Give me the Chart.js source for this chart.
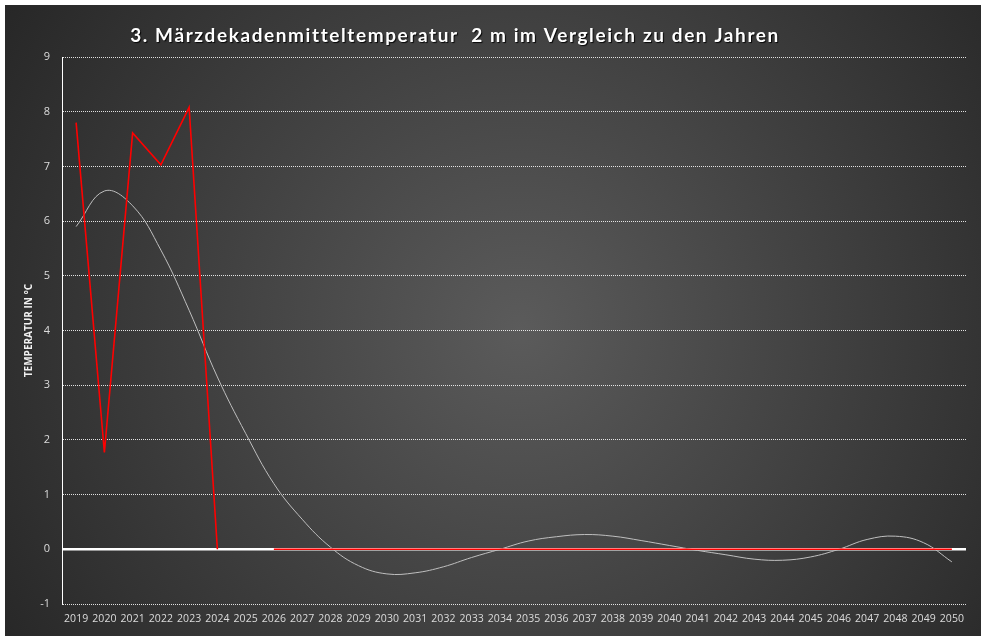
<!DOCTYPE html>
<html lang="de">
<head>
    <meta charset="UTF-8">
    <title>3. Märzdekadenmitteltemperatur</title>
    <script src="https://cdn.jsdelivr.net/npm/chart.js"></script>
    <style>
        html, body { margin: 0; padding: 0; background: #ffffff; }
        #wrap { width: 987px; height: 641px; }
    </style>
</head>
<body>
    <div id="wrap"><canvas id="chart" width="987" height="641"></canvas></div>
    <script>
        // Daten
        const TITLE = '3. Märzdekadenmitteltemperatur  2 m im Vergleich zu den Jahren';
        const years = ['2019', '2020', '2021', '2022', '2023', '2024', '2025', '2026', '2027', '2028',
            '2029', '2030', '2031', '2032', '2033', '2034', '2035', '2036', '2037', '2038',
            '2039', '2040', '2041', '2042', '2043', '2044', '2045', '2046', '2047', '2048',
            '2049', '2050'];
        // gemessene Werte (2025 fehlt, danach 0)
        const temps = [7.8, 1.77, 7.61, 7.03, 8.08, 0, null, 0, 0, 0,
            0, 0, 0, 0, 0, 0, 0, 0, 0, 0,
            0, 0, 0, 0, 0, 0, 0, 0, 0, 0,
            0, 0];
        // Trendlinie (Polynom)
        const trend = [5.9, 6.55, 6.28, 5.47, 4.37, 3.15, 2.12, 1.2, 0.55, 0.04,
            -0.3, -0.45, -0.43, -0.32, -0.15, 0.0, 0.15, 0.23, 0.27, 0.24,
            0.16, 0.07, -0.02, -0.1, -0.18, -0.2, -0.14, 0.0, 0.18, 0.24,
            0.12, -0.23];
        const yTicks = [-1, 0, 1, 2, 3, 4, 5, 6, 7, 8, 9];

        // Hintergrund mit Verlauf
        const bgPlugin = {
            id: 'bg',
            beforeDraw(chart) {
                const ctx = chart.ctx;
                ctx.save();
                ctx.fillStyle = '#ffffff';
                ctx.fillRect(0, 0, chart.width, chart.height);
                const g = ctx.createRadialGradient(520, 330, 0, 520, 330, 620);
                g.addColorStop(0, '#5b5b5b');
                g.addColorStop(1, '#262626');
                ctx.fillStyle = g;
                ctx.fillRect(5, 5, 976, 631);
                ctx.restore();
            }
        };

        // Titel mit Buchstabenabstand und Schatten
        const titlePlugin = {
            id: 'bigTitle',
            afterDraw(chart) {
                const ctx = chart.ctx;
                ctx.save();
                ctx.font = 'bold 19px Lato';
                ctx.letterSpacing = '1.6px';
                ctx.textAlign = 'center';
                ctx.textBaseline = 'middle';
                ctx.shadowColor = 'rgba(0,0,0,0.9)';
                ctx.shadowOffsetX = 1;
                ctx.shadowOffsetY = 1;
                ctx.shadowBlur = 1;
                ctx.fillStyle = '#ffffff';
                ctx.fillText(TITLE, 455, 36);
                ctx.restore();
            }
        };

        const ctx = document.getElementById('chart').getContext('2d');
        const chart = new Chart(ctx, {
            type: 'line',
            data: {
                labels: years,
                datasets: [
                    {
                        label: 'Temperatur',
                        data: temps,
                        borderColor: '#ff0000',
                        borderWidth: 1.6,
                        pointRadius: 0,
                        tension: 0,
                        spanGaps: false,
                        fill: false
                    },
                    {
                        label: 'Trend',
                        data: trend,
                        borderColor: '#bfbfbf',
                        borderWidth: 1,
                        pointRadius: 0,
                        tension: 0.4,
                        fill: false
                    }
                ]
            },
            options: {
                responsive: false,
                animation: false,
                layout: { padding: { left: 0, right: 21, top: 57, bottom: 0 } },
                plugins: {
                    legend: { display: false },
                    title: { display: false },
                    tooltip: { enabled: false }
                },
                scales: {
                    x: {
                        offset: true,
                        grid: { display: false, drawTicks: false },
                        border: { display: false },
                        ticks: {
                            color: '#dcdcdc',
                            font: { family: 'Open Sans', size: 10.5 },
                            padding: 9,
                            maxRotation: 0,
                            autoSkip: false
                        },
                        afterFit(scale) { scale.height = 37; }
                    },
                    y: {
                        min: -1,
                        max: 9,
                        afterBuildTicks(scale) {
                            scale.ticks = yTicks.map(v => ({ value: v }));
                        },
                        grid: {
                            drawTicks: false,
                            color: c => c.tick && c.tick.value === 0 ? '#ffffff' : 'rgba(255,255,255,0.85)',
                            lineWidth: c => c.tick && c.tick.value === 0 ? 2.5 : 1
                        },
                        border: {
                            display: true,
                            color: '#ffffff',
                            width: 1,
                            dash: c => c.tick && c.tick.value === 0 ? [] : [1, 1]
                        },
                        ticks: {
                            color: '#dcdcdc',
                            font: { family: 'Open Sans', size: 11 },
                            padding: 12
                        },
                        title: {
                            display: true,
                            text: 'TEMPERATUR IN °C',
                            color: '#f0f0f0',
                            font: { family: 'Open Sans', size: 10, weight: 'bold' },
                            padding: { top: 23, bottom: 0 }
                        },
                        afterFit(scale) { scale.width = 62; }
                    }
                }
            },
            plugins: [bgPlugin, titlePlugin]
        });
    </script>
</body>
</html>
